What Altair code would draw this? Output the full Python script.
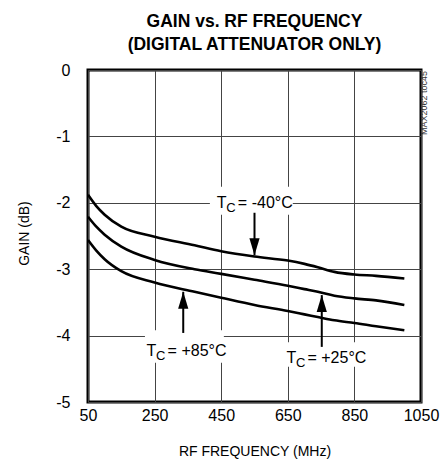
import altair as alt
import pandas as pd

FONT = "Liberation Sans, Arial, sans-serif"

# ---- data ----
freq = [50, 75, 100, 150, 250, 370, 450, 550, 650, 700, 740, 790, 850, 915, 1000]
gain_m40 = [-1.88, -2.05, -2.18, -2.36, -2.51, -2.64, -2.73, -2.81, -2.87, -2.92, -2.97, -3.04, -3.08, -3.10, -3.14]
gain_p25 = [-2.21, -2.36, -2.48, -2.66, -2.86, -3.00, -3.07, -3.16, -3.25, -3.30, -3.34, -3.40, -3.44, -3.47, -3.54]
gain_p85 = [-2.56, -2.72, -2.85, -3.03, -3.20, -3.34, -3.43, -3.54, -3.63, -3.68, -3.72, -3.77, -3.81, -3.86, -3.92]

x_ticks = [50, 250, 450, 650, 850, 1050]
y_ticks = [0, -1, -2, -3, -4, -5]

# annotations
label_rest = ["= -40°C", "= +85°C", "= +25°C"]
label_f = [437, 226, 646]
label_g = [-2.085, -4.31, -4.42]
box_f1 = [416, 221, 626]
box_f2 = [665, 458, 872]
box_g1 = [-1.76, -3.92, -4.10]
box_g2 = [-2.18, -4.41, -4.47]
arrow_f = [550, 336, 752]
arrow_from = [-2.15, -3.96, -4.17]
arrow_tip = [-2.79, -3.34, -3.39]
arrow_dir = ["down", "up", "up"]

title_line1 = "GAIN vs. RF FREQUENCY"
title_line2 = "(DIGITAL ATTENUATOR ONLY)"
side_note = "MAX2062 toc45"

# ---- tables ----
curves = pd.concat([
    pd.DataFrame({"f": freq, "g": gain_m40, "series": "-40"}),
    pd.DataFrame({"f": freq, "g": gain_p25, "series": "+25"}),
    pd.DataFrame({"f": freq, "g": gain_p85, "series": "+85"}),
])
labels = pd.DataFrame({"f": label_f, "g": label_g, "rest": label_rest})
boxes = pd.DataFrame({"f": box_f1, "f2": box_f2, "g": box_g1, "g2": box_g2})
arrows = pd.DataFrame({"f": arrow_f, "g": arrow_from, "g2": arrow_tip, "dir": arrow_dir})
one = pd.DataFrame({"a": [0]})

xscale = alt.Scale(domain=[50, 1050], nice=False, zero=False)
yscale = alt.Scale(domain=[-5, 0], nice=False)

xaxis = alt.Axis(values=x_ticks, title="RF FREQUENCY (MHz)", grid=True, ticks=False, domain=False,
                 labelFont=FONT, labelFontSize=16, labelPadding=5, labelColor="black",
                 labelFlush=False, labelExpr="'' + datum.value",
                 titleFont=FONT, titleFontSize=14, titleFontWeight="normal", titleColor="black",
                 titleY=42, titleBaseline="top",
                 gridColor="#444", gridWidth=1, gridOpacity=1)
yaxis = alt.Axis(values=y_ticks, title="GAIN (dB)", grid=True, ticks=False, domain=False,
                 labelFont=FONT, labelFontSize=16, labelPadding=18, labelColor="black",
                 labelFlush=False, labelExpr="'' + datum.value",
                 titleFont=FONT, titleFontSize=14, titleFontWeight="normal", titleColor="black",
                 titleX=-60, titleY=163, titleBaseline="alphabetic", titleAngle=270,
                 gridColor="#444", gridWidth=1, gridOpacity=1)


def X(field="f"):
    return alt.X(f"{field}:Q", scale=xscale, axis=xaxis)


def Y(field="g"):
    return alt.Y(f"{field}:Q", scale=yscale, axis=yaxis)


base_lines = alt.Chart(curves).mark_line(color="black", strokeWidth=2.6, interpolate="monotone").encode(
    x=X(), y=Y(), detail="series:N"
)

white_boxes = alt.Chart(boxes).mark_rect(color="white", opacity=1).encode(
    x=X(), x2="f2:Q", y=Y(), y2="g2:Q"
)

t_text = alt.Chart(labels).mark_text(text="T", align="left", baseline="alphabetic",
                                     font=FONT, fontSize=16, color="black").encode(x=X(), y=Y())
c_text = alt.Chart(labels).mark_text(text="C", align="left", baseline="alphabetic", dx=9.5, dy=4,
                                     font=FONT, fontSize=13, color="black").encode(x=X(), y=Y())
rest_text = alt.Chart(labels).mark_text(align="left", baseline="alphabetic", dx=21,
                                        font=FONT, fontSize=16, color="black").encode(
    x=X(), y=Y(), text="rest:N")

shafts = alt.Chart(arrows).mark_rule(color="black", strokeWidth=2).encode(x=X(), y=Y(), y2="g2:Q")

path_down = "M0,0L-0.6,-2L0.6,-2Z"
path_up = "M0,0L-0.6,2L0.6,2Z"
heads = alt.Chart(arrows).mark_point(filled=True, color="black", opacity=1, size=289).encode(
    x=X(), y=Y("g2"),
    shape=alt.Shape("dir:N", scale=alt.Scale(domain=["down", "up"], range=[path_down, path_up]), legend=None),
)

title1 = alt.Chart(one).mark_text(text=title_line1, align="center", baseline="alphabetic",
                                  font=FONT, fontSize=17.5, fontWeight="bold", color="black").encode(
    x=alt.value(166.5), y=alt.value(-43.3))
title2 = alt.Chart(one).mark_text(text=title_line2, align="center", baseline="alphabetic",
                                  font=FONT, fontSize=17.5, fontWeight="bold", color="black").encode(
    x=alt.value(166.5), y=alt.value(-20))
side = alt.Chart(one).mark_text(text=side_note, align="left", baseline="alphabetic", angle=270,
                                font=FONT, fontSize=9, color="#333").encode(
    x=alt.value(339), y=alt.value(65))

chart = alt.layer(
    white_boxes, base_lines, t_text, c_text, rest_text, shafts, heads, title1, title2, side
).properties(
    width=333, height=332,
    autosize=alt.AutoSizeParams(type="none"),
    padding={"left": 80, "top": 62, "right": 19, "bottom": 60},
).configure_view(stroke="black", strokeWidth=3)

chart.save("out.html", embed_options={"renderer": "svg", "actions": False})
